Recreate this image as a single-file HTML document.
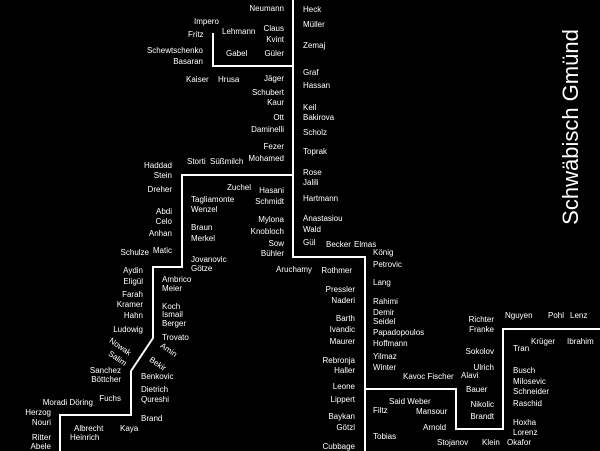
<!DOCTYPE html>
<html><head><meta charset="utf-8"><style>
html,body{margin:0;padding:0;background:#000;}
svg{display:block;}
text{font-family:"Liberation Sans",sans-serif;font-size:8px;fill:#fff;dominant-baseline:middle;}
.e{text-anchor:end;}
</style></head><body>
<svg width="600" height="451" viewBox="0 0 600 451" xmlns="http://www.w3.org/2000/svg">
<rect width="600" height="451" fill="#000"/>
<g fill="none" stroke="#fff" stroke-width="2">
<polyline points="213,33 213,66 293,66"/>
<polyline points="293,0 293,257 365,257 365,451"/>
<polyline points="293,175 182,175 182,267 153,267 153,338 131,371 131,415 60,415 60,451"/>
<polyline points="365,389 456,389 456,429 503,429 503,329 600,329"/>
</g>
<text x="572" y="127" transform="rotate(-90 572 127)" style="font-size:22px;text-anchor:middle">Schwäbisch Gmünd</text>

<text class="e" x="284" y="9">Neumann</text>
<text class="e" x="284" y="29">Claus</text>
<text class="e" x="284" y="40">Kvint</text>
<text class="e" x="284" y="54">Güler</text>
<text x="222" y="32">Lehmann</text>
<text x="226" y="54">Gabel</text>
<text x="194" y="22">Impero</text>
<text x="188" y="35">Fritz</text>
<text class="e" x="203" y="51">Schewtschenko</text>
<text class="e" x="203" y="62">Basaran</text>
<text x="186" y="80">Kaiser</text>
<text x="218" y="80">Hrusa</text>
<text class="e" x="284" y="79">Jäger</text>
<text class="e" x="284" y="93">Schubert</text>
<text class="e" x="284" y="103">Kaur</text>
<text class="e" x="284" y="118">Ott</text>
<text class="e" x="284" y="130">Daminelli</text>
<text class="e" x="284" y="147">Fezer</text>
<text class="e" x="284" y="159">Mohamed</text>
<text x="187" y="162">Storti</text>
<text x="210" y="162">Süßmilch</text>
<text class="e" x="172" y="166">Haddad</text>
<text class="e" x="172" y="176">Stein</text>

<text x="303" y="10">Heck</text>
<text x="303" y="25">Müller</text>
<text x="303" y="46">Zemaj</text>
<text x="303" y="73">Graf</text>
<text x="303" y="86">Hassan</text>
<text x="303" y="108">Keil</text>
<text x="303" y="118">Bakirova</text>
<text x="303" y="133">Scholz</text>
<text x="303" y="152">Toprak</text>
<text x="303" y="173">Rose</text>
<text x="303" y="183">Jalili</text>
<text x="303" y="199">Hartmann</text>
<text x="303" y="219">Anastasiou</text>
<text x="303" y="230">Wald</text>
<text x="303" y="243">Gül</text>
<text x="326" y="245">Becker</text>
<text x="354" y="245">Elmas</text>

<text class="e" x="172" y="190">Dreher</text>
<text class="e" x="172" y="212">Abdi</text>
<text class="e" x="172" y="222">Celo</text>
<text class="e" x="172" y="234">Anhan</text>
<text class="e" x="172" y="251">Matic</text>
<text class="e" x="149" y="253">Schulze</text>
<text x="227" y="188">Zuchel</text>
<text x="191" y="200">Tagliamonte</text>
<text x="191" y="210">Wenzel</text>
<text class="e" x="284" y="191">Hasani</text>
<text class="e" x="284" y="202">Schmidt</text>
<text class="e" x="284" y="220">Mylona</text>
<text class="e" x="284" y="232">Knobloch</text>
<text class="e" x="284" y="244">Sow</text>
<text class="e" x="284" y="254">Bühler</text>
<text x="191" y="228">Braun</text>
<text x="191" y="239">Merkel</text>
<text x="191" y="260">Jovanovic</text>
<text x="191" y="269">Götze</text>
<text x="276" y="270">Aruchamy</text>
<text class="e" x="352" y="271">Rothmer</text>
<text class="e" x="355" y="290">Pressler</text>
<text class="e" x="355" y="301">Naderi</text>
<text class="e" x="355" y="319">Barth</text>
<text class="e" x="355" y="330">Ivandic</text>
<text class="e" x="355" y="342">Maurer</text>
<text class="e" x="355" y="361">Rebronja</text>
<text class="e" x="355" y="371">Haller</text>
<text class="e" x="355" y="387">Leone</text>
<text class="e" x="355" y="400">Lippert</text>
<text class="e" x="355" y="417">Baykan</text>
<text class="e" x="355" y="428">Götzl</text>
<text class="e" x="355" y="447">Cubbage</text>

<text x="373" y="253">König</text>
<text x="373" y="265">Petrovic</text>
<text x="373" y="283">Lang</text>
<text x="373" y="302">Rahimi</text>
<text x="373" y="313">Demir</text>
<text x="373" y="322">Seidel</text>
<text x="373" y="333">Papadopoulos</text>
<text x="373" y="344">Hoffmann</text>
<text x="373" y="357">Yilmaz</text>
<text x="373" y="368">Winter</text>
<text x="403" y="377">Kavoc Fischer</text>
<text class="e" x="494" y="320">Richter</text>
<text class="e" x="494" y="330">Franke</text>
<text x="505" y="316">Nguyen</text>
<text x="548" y="316">Pohl</text>
<text x="570" y="316">Lenz</text>
<text class="e" x="494" y="352">Sokolov</text>
<text class="e" x="494" y="368">Ulrich</text>
<text x="461" y="376">Alavi</text>
<text x="466" y="390">Bauer</text>
<text class="e" x="494" y="405">Nikolic</text>
<text class="e" x="494" y="417">Brandt</text>
<text x="513" y="349">Tran</text>
<text x="531" y="342">Krüger</text>
<text x="567" y="342">Ibrahim</text>
<text x="513" y="371">Busch</text>
<text x="513" y="382">Milosevic</text>
<text x="513" y="392">Schneider</text>
<text x="513" y="404">Raschid</text>
<text x="513" y="423">Hoxha</text>
<text x="513" y="433">Lorenz</text>
<text x="507" y="443">Okafor</text>
<text x="482" y="443">Klein</text>
<text x="437" y="443">Stojanov</text>
<text x="389" y="402">Said Weber</text>
<text x="373" y="411">Filtz</text>
<text x="416" y="412">Mansour</text>
<text x="423" y="428">Arnold</text>
<text x="373" y="437">Tobias</text>

<text class="e" x="143" y="271">Aydin</text>
<text class="e" x="143" y="282">Eligül</text>
<text class="e" x="143" y="295">Farah</text>
<text class="e" x="143" y="305">Kramer</text>
<text class="e" x="143" y="316">Hahn</text>
<text class="e" x="143" y="330">Ludowig</text>
<text x="162" y="280">Ambrico</text>
<text x="162" y="289">Meier</text>
<text x="162" y="307">Koch</text>
<text x="162" y="315">Ismail</text>
<text x="162" y="324">Berger</text>
<text x="162" y="338">Trovato</text>
<text x="161" y="345" transform="rotate(35 161 345)">Amin</text>
<text x="110" y="340" transform="rotate(35 110 340)">Nowak</text>
<text x="109" y="353" transform="rotate(35 109 353)">Salim</text>
<text x="150" y="359" transform="rotate(35 150 359)">Bekir</text>
<text class="e" x="121" y="371">Sanchez</text>
<text class="e" x="121" y="380">Böttcher</text>
<text x="141" y="377">Benkovic</text>
<text x="141" y="390">Dietrich</text>
<text x="141" y="400">Qureshi</text>
<text class="e" x="121" y="399">Fuchs</text>
<text class="e" x="93" y="403">Moradi Döring</text>
<text class="e" x="51" y="413">Herzog</text>
<text class="e" x="51" y="423">Nouri</text>
<text x="141" y="419">Brand</text>
<text x="120" y="429">Kaya</text>
<text x="74" y="429">Albrecht</text>
<text x="70" y="438">Heinrich</text>
<text class="e" x="51" y="438">Ritter</text>
<text class="e" x="51" y="447">Abele</text>
</svg>
</body></html>
